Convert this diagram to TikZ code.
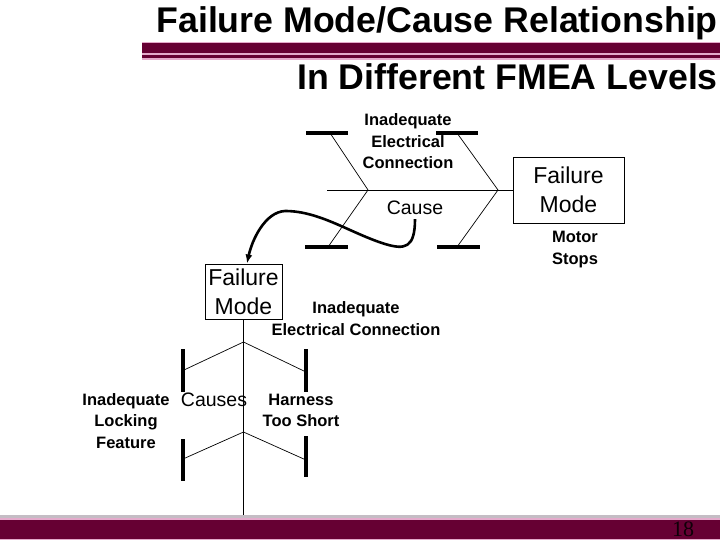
\documentclass[tikz,border=0pt]{standalone}
\usepackage{fontspec}
\setmainfont{Liberation Sans}
\newfontfamily\numfont{Liberation Serif}
\usetikzlibrary{arrows.meta, positioning}
\definecolor{maroon}{HTML}{660033}
\definecolor{barpink}{HTML}{E4AACB}
\definecolor{linegray}{HTML}{C4BCC4}
\tikzset{
    mode_box/.style={rectangle, draw, line width=0.9pt, align=center, inner sep=0pt, font=\fontsize{23}{29}\selectfont},
    label_text/.style={align=center, inner sep=0pt, font=\fontsize{16.5}{21.5}\selectfont\bfseries},
    cause_text/.style={inner sep=0pt, font=\fontsize{19.5}{23}\selectfont},
    title_text/.style={anchor=base east, inner sep=0pt, font=\fontsize{35.7}{40}\selectfont\bfseries},
    bone_line/.style={line width=0.7pt},
    bone_bar/.style={line width=4pt},
    arrow/.style={-{Latex[length=9pt,width=7pt]}, line width=2.6pt}
}

\begin{document}
\begin{tikzpicture}[x=1pt, y=-1pt]
    \clip (0,0) rectangle (720,540);
    \fill[white] (0,0) rectangle (720,540);

    % heading
    \node (title1) [title_text] at (718,33) {Failure Mode/Cause Relationship};
    \node (title2) [title_text] at (718,90) {In Different FMEA Levels};
    \fill[barpink] (142,42) rectangle (720,60);
    \fill[maroon] (142,43) rectangle (720,53.5);
    \fill[maroon] (142,55) rectangle (720,58.5);

    % upper level
    \node (fm1) [mode_box, minimum width=111pt, minimum height=66pt] at (568.5,190) {Failure\\Mode};
    \node (elec1) [label_text] at (408,141.5) {Inadequate\\Electrical\\Connection};
    \node (cause) [cause_text] at (415,208) {Cause};
    \node (motor) [label_text] at (575,249.5) {Motor\\Stops};
    \coordinate (tail1) at (327,190);
    \coordinate (j1) at (368,190);
    \coordinate (j2) at (498,190);
    \draw [bone_line] (tail1) -- (fm1.west);
    \draw [bone_line] (330,133) -- (j1) -- (328,247);
    \draw [bone_line] (457,133) -- (j2) -- (457,247);
    \draw [bone_bar] (306,133) -- (348,133);
    \draw [bone_bar] (436,133) -- (478,133);
    \draw [bone_bar] (305,247) -- (348,247);
    \draw [bone_bar] (437,247) -- (480,247);

    % lower level
    \node (fm2) [mode_box, minimum width=77pt, minimum height=55pt] at (243.5,291.5) {Failure\\Mode};
    \node (elec2) [label_text] at (356,318.75) {Inadequate\\Electrical Connection};
    \node (locking) [label_text] at (126,421) {Inadequate\\Locking\\Feature};
    \node (causes) [cause_text] at (214,400) {Causes};
    \node (harness) [label_text] at (301,410.5) {Harness\\Too Short};
    \coordinate (spine_end) at (243.5,517);
    \coordinate (k1) at (243.5,342);
    \coordinate (k2) at (243.5,432);
    \draw [bone_line] (fm2.south) -- (spine_end);
    \draw [bone_line] (184,370) -- (k1) -- (306,372);
    \draw [bone_line] (183,459) -- (k2) -- (306,460);
    \draw [bone_bar] (183,349) -- (183,392);
    \draw [bone_bar] (306,349) -- (306,392);
    \draw [bone_bar] (183,439) -- (183,481);
    \draw [bone_bar] (306,436) -- (306,477);

    \draw [arrow] ([yshift=-4pt]cause.south) .. controls (415,248) and (405,250) .. (385,244)
        .. controls (350,233) and (320,211) .. (285,211)
        .. controls (265,212) and (252,240) .. ([xshift=3.5pt]fm2.north);

    % footer
    \fill[linegray] (0,514.5) rectangle (720,517.5);
    \fill[barpink] (0,518) rectangle (720,540);
    \fill[maroon] (0,519.5) rectangle (720,538.5);
    \node (pagenum) [anchor=base, inner sep=0pt, text=black!85!maroon, font=\numfont\fontsize{22}{26}\selectfont] at (683,536.5) {18};
\end{tikzpicture}
\end{document}
